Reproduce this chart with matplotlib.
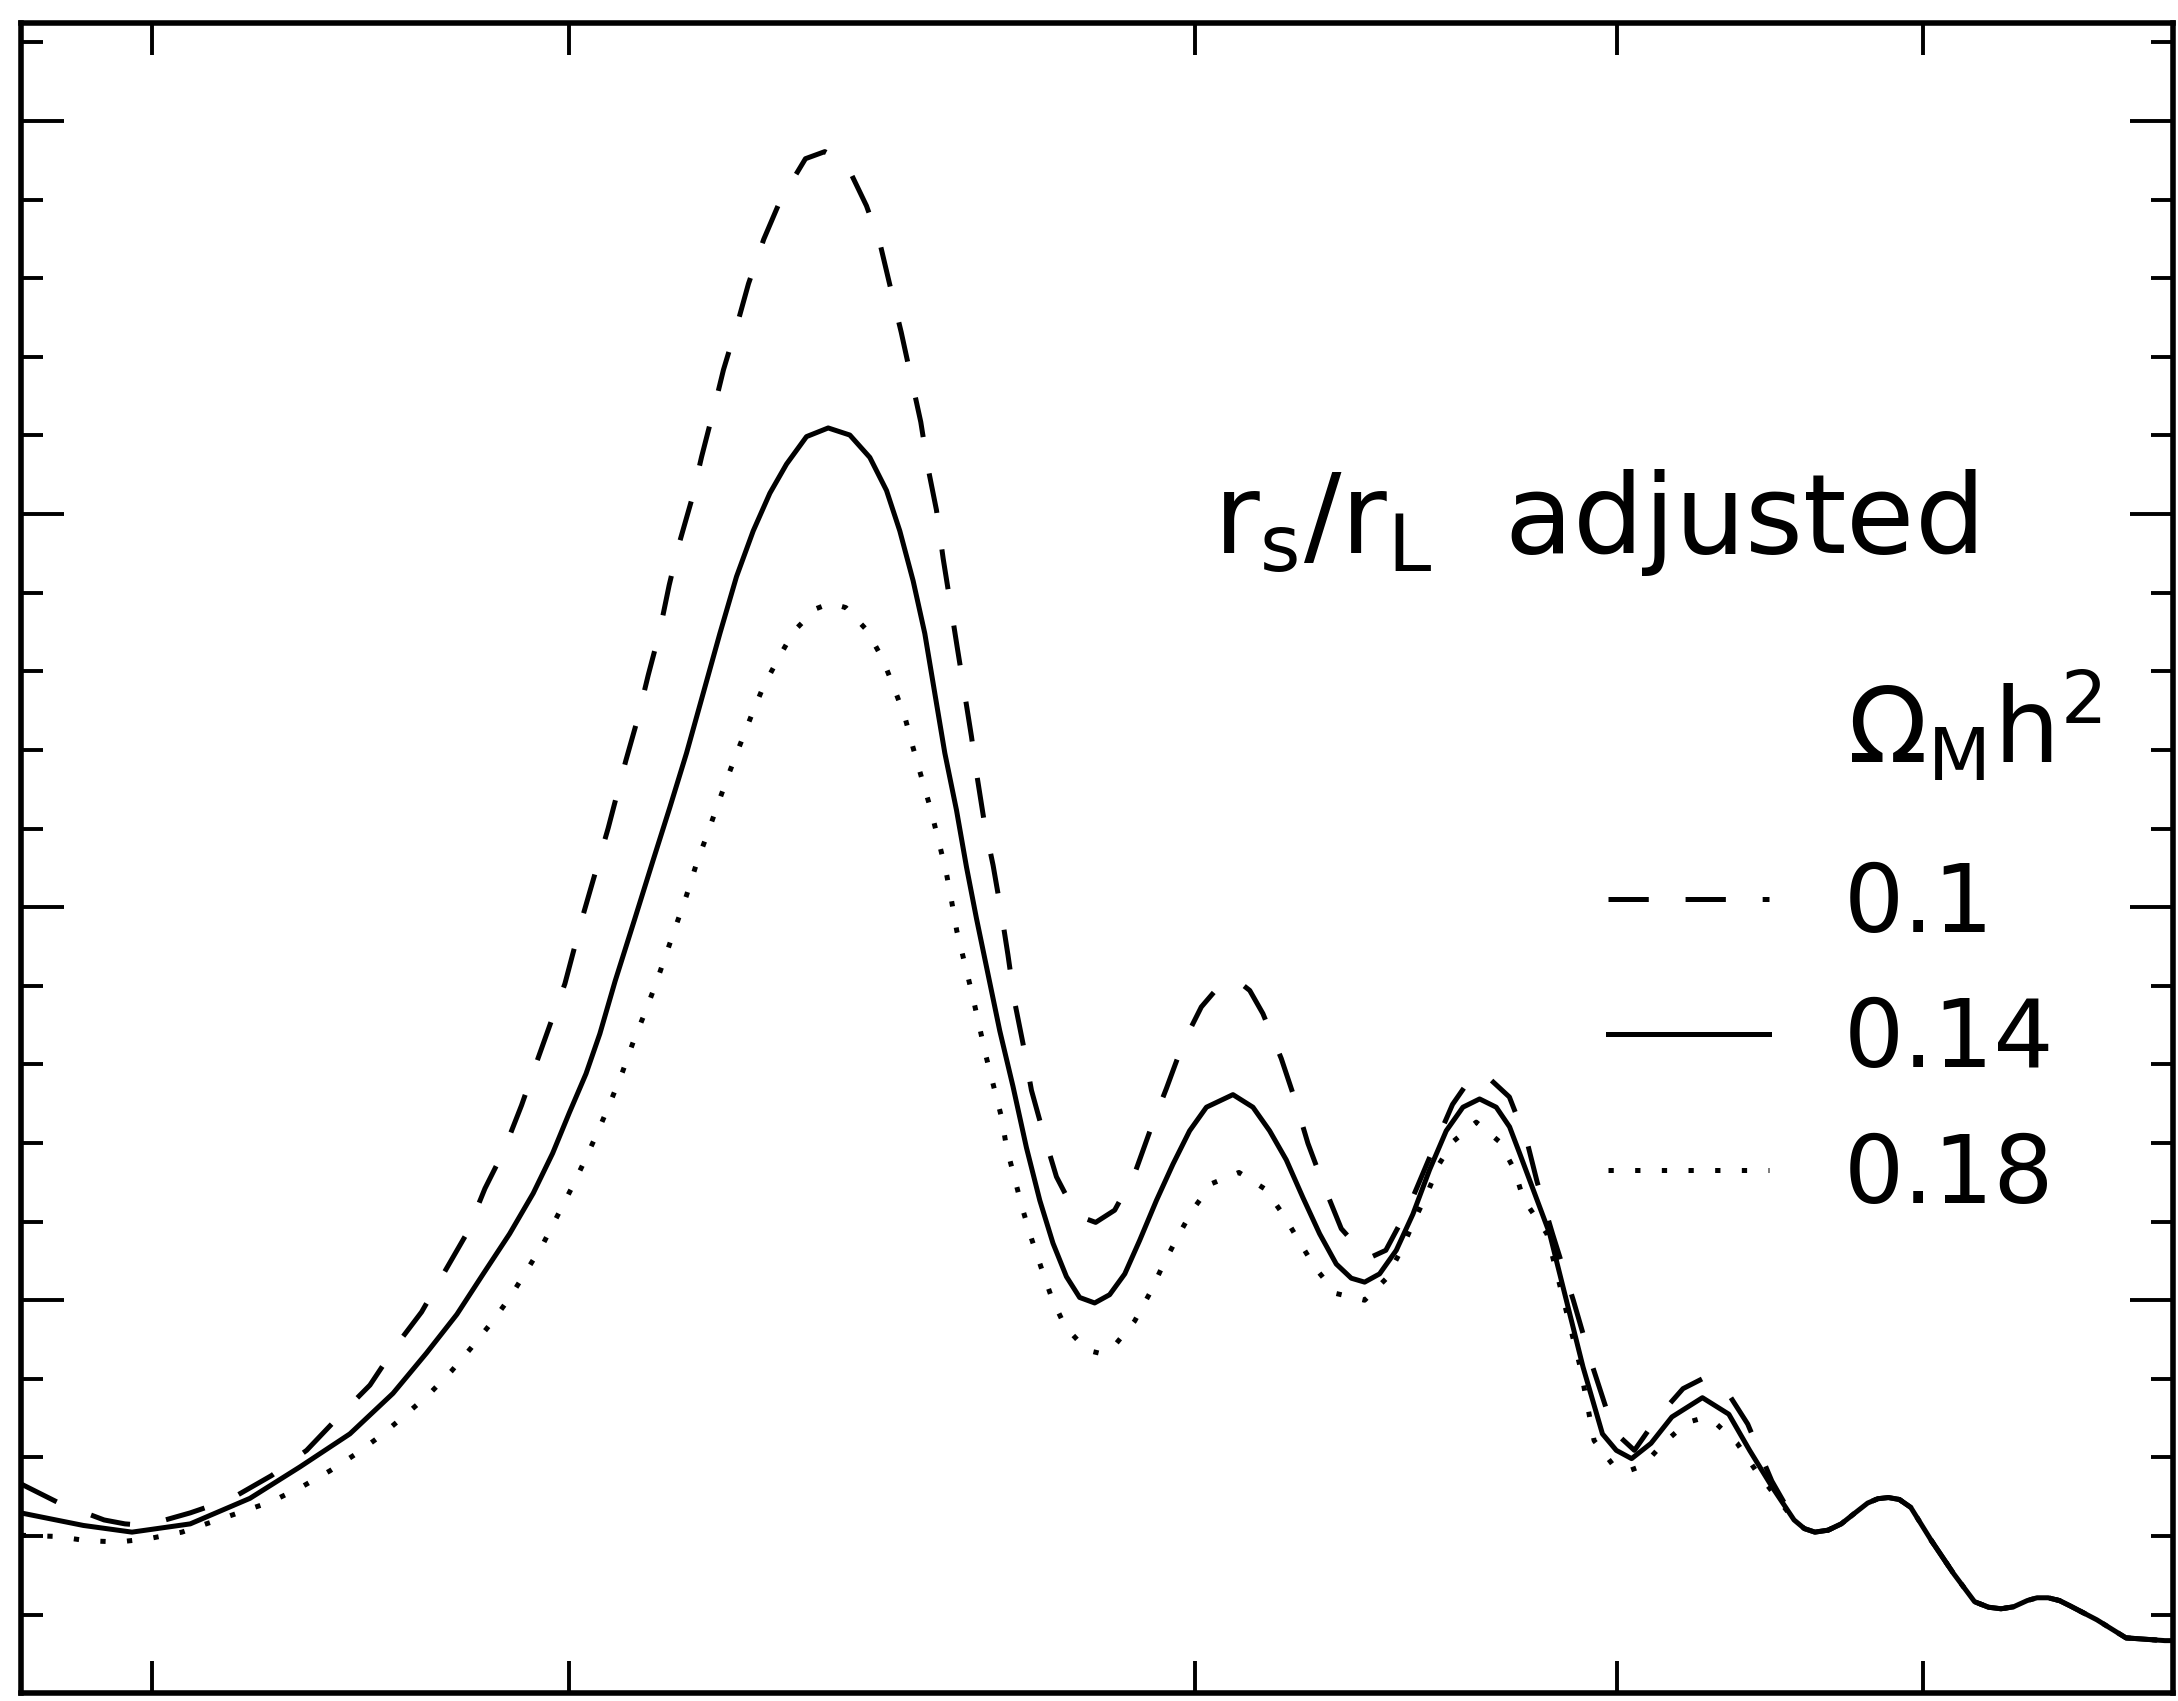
import numpy as np
import matplotlib.pyplot as plt
from matplotlib.ticker import FixedLocator, MultipleLocator, NullLocator

plt.rcParams['lines.scale_dashes'] = False
plt.rcParams['font.family'] = 'DejaVu Sans'

# multipole l and band power for each Omega_M h^2 (r_s/r_L held fixed)
ell_014 = [2.0, 4.91, 8.31, 13.87, 21.42, 29.31, 38.71, 48.11, 56.24, 64.37, 71.92,
           79.99, 87.64, 94.27, 100.18, 106.30, 111.57, 117.55, 125.55, 133.26, 140.52,
           148.01, 155.73, 163.69, 171.89, 180.33, 189.02, 197.94, 208.99, 221.37,
           234.15, 246.36, 256.82, 265.36, 274.08, 281.85, 288.61, 295.48, 303.60,
           310.68, 317.85, 334.95, 344.86, 355.16, 365.54, 375.99, 386.82, 397.63,
           410.13, 422.86, 435.96, 449.04, 464.13, 479.21, 494.76, 510.73, 536.57,
           556.55, 573.55, 590.84, 608.44, 626.38, 644.61, 661.28, 676.32, 693.45,
           712.85, 732.52, 752.54, 772.88, 793.54, 814.55, 835.84, 853.16, 866.29,
           906.5, 929.2, 952.3, 979.6, 999.4, 1021.5, 1050.0, 1081.1, 1127.6, 1168.8,
           1201.9, 1237.8]
dt_014 = [459, 427, 410, 431, 496, 576, 660, 763, 865, 964, 1067,
          1169, 1272, 1374, 1477, 1576, 1678, 1812, 1971, 2120, 2254,
          2392, 2544, 2696, 2841, 2957, 3053, 3127, 3197, 3219,
          3201, 3144, 3060, 2957, 2830, 2696, 2544, 2392, 2247,
          2102, 1971, 1685, 1544, 1388, 1254, 1145, 1060, 1007,
          993, 1014, 1067, 1152, 1254, 1346, 1431, 1491, 1523,
          1491, 1431, 1357, 1261, 1169, 1092, 1056, 1046, 1067,
          1127, 1219, 1332, 1431, 1491, 1512, 1491, 1441, 1374,
          1169, 1000, 830, 660, 618, 597, 636, 703, 752, 710,
          618, 526]

ell_010 = [2.0, 3.60, 6.23, 7.75, 9.48, 13.87, 18.74, 24.65, 30.47, 36.71, 42.93, 48.95,
           55.04, 61.56, 67.09, 72.42, 77.99, 83.81, 88.20, 93.89, 98.58, 105.3, 114.8,
           121.85, 126.52, 131.13, 135.84, 140.21, 144.67, 150.3, 154.95, 160.7, 165.44,
           172.3, 177.92, 185.8, 194.6, 208.4, 219.4, 231.7, 244.3, 252.9, 260.0, 266.3,
           279.16, 284.09, 289.75, 294.33, 298.94, 304.08, 308.80, 314.24, 318.34,
           323.89, 330.00, 336.19, 341.08, 346.13, 352.49, 359.03, 368.06, 378.77,
           395.02, 411.0, 427.18, 444.62, 459.60, 473.24, 488.51, 505.83, 521.71, 539.5,
           553.32, 566.69, 585.59, 599.61, 613.76, 629.98, 650.13, 680.11, 700.67,
           726.74, 753.34, 780.6, 799.62, 818.9, 852.9, 876.7, 889.7, 910.3, 938.8,
           965.9, 995.5, 1025.6, 1058.3, 1097.9, 1129.8, 1162.2, 1198.8, 1237.8]
dt_010 = [533, 484, 441, 431, 427, 459, 494, 554, 618, 707, 784, 886,
          970, 1081, 1169, 1284, 1377, 1496, 1593, 1712, 1805, 1982, 2201,
          2373, 2475, 2590, 2696, 2819, 2925, 3035, 3145, 3265, 3367,
          3484, 3586, 3699, 3798, 3904, 3922, 3894, 3784, 3685, 3565, 3462,
          3234, 3116, 3010, 2887, 2781, 2662, 2556, 2434, 2331,
          2208, 2106, 1984, 1878, 1759, 1653, 1534, 1428, 1314,
          1216, 1198, 1229, 1322, 1441, 1539, 1653, 1746, 1795, 1816,
          1788, 1729, 1615, 1513, 1399, 1297, 1182, 1106, 1127,
          1233, 1367, 1498, 1554, 1579, 1517, 1399, 1300, 1169, 1000,
          830, 667, 618, 699, 775, 802, 777, 685, 540]

ell_018 = [2.0, 3.49, 5.16, 7.33, 9.85, 12.97, 24.53, 29.59, 34.76, 40.09, 45.50, 50.93,
           57.16, 62.91, 68.52, 74.41, 80.08, 85.44, 91.01, 95.82, 100.98, 105.89, 110.94,
           115.74, 120.51, 124.86, 129.72, 134.40, 148.01, 152.62, 157.63, 162.55, 167.76,
           173.56, 179.47, 185.51, 193.45, 201.96, 214.24, 222.66, 231.75, 244.64, 254.27,
           261.43, 268.62, 274.08, 279.64, 285.70, 290.91, 296.17, 300.12, 303.8, 314.6,
           324.7, 336.19, 339.94, 346.13, 352.07, 359.03, 366.85, 375.21, 385.93, 403.74,
           414.49, 427.18, 444.62, 457.99, 470.07, 483.87, 497.92, 516.09, 542.51, 569.40,
           588.11, 604.89, 621.99, 644.61, 676.32, 701.14, 718.66, 734.47, 750.49, 764.64,
           781.05, 810.30, 840.13, 859.67, 871.2, 902.7, 925.4, 948.4, 967.8, 995.5,
           1015.5, 1037.8, 1068.6, 1104.2, 1125.5, 1147.0, 1182.0, 1210.9, 1251.5]
dt_018 = [402, 399, 388, 385, 394, 410, 487, 525, 566, 610, 657, 707,
          763, 820, 880, 943, 1007, 1075, 1144, 1213, 1285, 1356, 1431,
          1505, 1581, 1657, 1731, 1805, 2030, 2111, 2185, 2259, 2335,
          2412, 2488, 2560, 2632, 2702, 2759, 2773, 2762, 2704, 2632,
          2560, 2484, 2405, 2330, 2251, 2172, 2094, 2017, 1940, 1781,
          1622, 1466, 1390, 1310, 1233, 1157, 1081, 1004, 932, 873,
          865, 885, 947, 1017, 1089, 1163, 1231, 1297, 1325, 1282,
          1216, 1148, 1081, 1017, 1000, 1055, 1127, 1204, 1276, 1348,
          1403, 1453, 1403, 1331, 1258, 1169, 1000, 830, 643, 579,
          565, 579, 636, 689, 699, 689, 636, 569, 487]

# damping tail, where the three models coincide
ell_tail = [1274.4, 1291.6, 1309.3, 1331.7, 1354.3, 1376.5, 1400.2, 1418.2, 1437.0,
            1456.6, 1477.1, 1515.1, 1556.4, 1595.7, 1622.3, 1646.4, 1670.7, 1697.9,
            1717.2, 1739.3, 1761.7, 1784.1, 1838.3, 1899.2, 1982.3, 2000.0]
dt_tail = [441, 419, 410, 415, 431, 457, 484, 495, 498,
           493, 473, 388, 304, 233, 219, 215, 220, 236,
           243, 243, 236, 222, 187, 141, 134, 134]

labels = ['0.1', '0.14', '0.18']
x_ticks = [10, 100, 500, 1000, 1500]


def fwd(x):
    return np.power(np.clip(x, 1e-9, None), 0.4)


def inv(u):
    return np.power(np.clip(u, 0, None), 2.5)


fig = plt.figure(figsize=(21.78, 17.01), dpi=100)
ax = fig.add_axes([0.0095, 0.00453, 0.9882, 0.98213])

lw = 3.6
l1, = ax.plot(ell_010 + ell_tail, dt_010 + dt_tail, color='black', lw=lw,
              dashes=(29, 26.5), dash_capstyle='butt', solid_joinstyle='round')
l2, = ax.plot(ell_014 + ell_tail, dt_014 + dt_tail, color='black', lw=lw,
              solid_joinstyle='round')
l3, = ax.plot(ell_018 + ell_tail, dt_018 + dt_tail, color='black', lw=lw,
              dashes=(3.8, 15.4), dash_capstyle='butt')

ax.set_xscale('function', functions=(fwd, inv))
ax.set_xlim(2, 2000)
ax.set_ylim(0, 4250)
ax.xaxis.set_major_locator(FixedLocator(x_ticks))
ax.xaxis.set_minor_locator(NullLocator())
ax.yaxis.set_major_locator(MultipleLocator(1000))
ax.yaxis.set_minor_locator(MultipleLocator(200))
ax.tick_params(axis='both', which='both', direction='in', top=True, right=True,
               labelbottom=False, labelleft=False, width=2.8, color='black')
ax.tick_params(axis='x', which='major', length=23)
ax.tick_params(axis='y', which='major', length=31)
ax.tick_params(axis='y', which='minor', length=16)
for s in ax.spines.values():
    s.set_linewidth(4)

fig.text(0.7321, 0.6749, r'$\mathregular{r_s/r_L}$  adjusted', fontsize=80,
         ha='center', va='baseline')
fig.text(0.9066, 0.5509, r'$\mathregular{\Omega_M h^2}$', fontsize=75,
         ha='center', va='baseline')

ax.legend([l1, l2, l3], labels, loc='upper left', bbox_to_anchor=(0.7385, 0.4944),
          bbox_transform=fig.transFigure, frameon=False, fontsize=68,
          handlelength=1.705, handletextpad=0.79, labelspacing=0.46,
          borderpad=0, borderaxespad=0)

fig.savefig('out.png', dpi=100, facecolor='white')
